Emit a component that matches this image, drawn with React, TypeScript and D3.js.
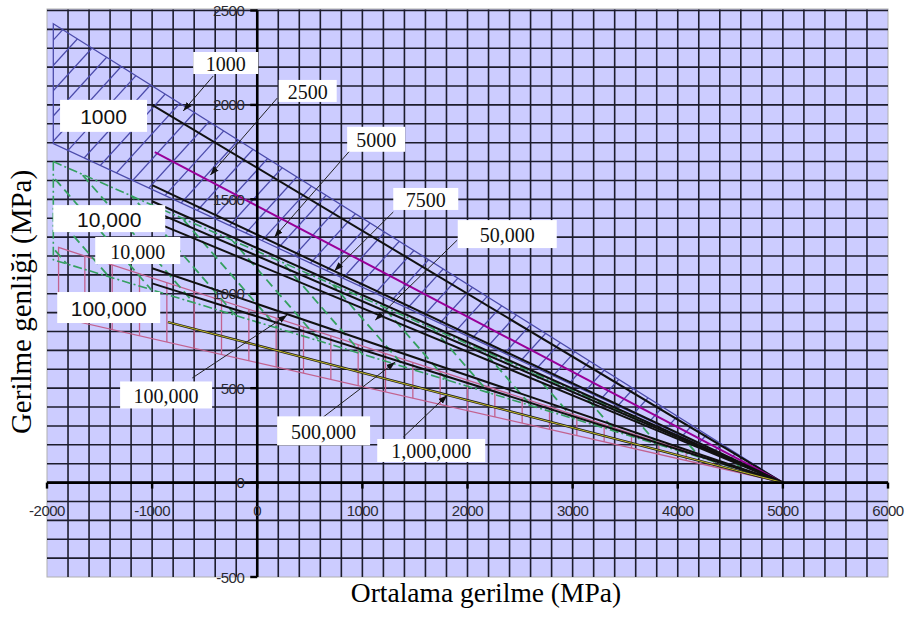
import React from "react";
import * as d3 from "d3";

// ---------- data ----------
const xTicks = [-2000, -1000, 0, 1000, 2000, 3000, 4000, 5000, 6000];
const yTicks = [-500, 0, 500, 1000, 1500, 2000, 2500];
const convergeX = 5000; // all constant-life lines meet at (5000, 0)

// constant-life lines (cycles), start point -> (5000, 0)
const lifeCycles = ["1000", "2500", "5000", "7500", "10,000", "50,000", "100,000", "500,000", "1,000,000"];
const lifeStartX = [-1000, -975, -1000, -1000, -1000, -1000, -1000, -1000, -850];
const lifeStartY = [2000, 1750, 1575, 1490, 1440, 1385, 1135, 1055, 850];

// scatter bands
const bandCycles = ["1000", "10,000", "100,000"];
const bandStartX = [-1940, -1940, -1890];
const bandUpper = [2430, 1700, 1245];
const bandLower = [1795, 1180, 875];

// callout labels: text, centre (data units), arrow from -> to (data units)
const callouts = [
  { text: "1000", font: "T", cx: -300, cy: 2222, w: 65, h: 22, a: [-419, 2153, -704, 1968] },
  { text: "2500", font: "T", cx: 480, cy: 2074, w: 58, h: 22, a: [190, 2036, -447, 1628] },
  { text: "5000", font: "T", cx: 1131, cy: 1818, w: 58, h: 25, a: [885, 1760, 162, 1299] },
  { text: "7500", font: "T", cx: 1603, cy: 1502, w: 65, h: 22, a: [1294, 1433, 733, 1121] },
  { text: "50,000", font: "T", cx: 2378, cy: 1316, w: 99, h: 28, a: [1902, 1284, 1122, 860] },
  { text: "10,000", font: "A", cx: -1408, cy: 1398, w: 112, h: 27, a: null },
  { text: "10,000", font: "T", cx: -1137, cy: 1229, w: 85, h: 27, a: null },
  { text: "100,000", font: "A", cx: -1413, cy: 927, w: 103, h: 31, a: null },
  { text: "100,000", font: "T", cx: -867, cy: 464, w: 92, h: 27, a: [-618, 554, 285, 887] },
  { text: "500,000", font: "T", cx: 631, cy: 274, w: 93, h: 29, a: [628, 347, 1313, 638] },
  { text: "1,000,000", font: "T", cx: 1655, cy: 170, w: 108, h: 23, a: [1389, 241, 1807, 463] },
  { text: "1000", font: "A", cx: -1462, cy: 1942, w: 87, h: 32, a: null },
];

const SERIF = "'Liberation Serif','Times New Roman',serif";
const SANS = "'Liberation Sans',Arial,sans-serif";

export default function App() {
  const x = d3.scaleLinear().domain([-2000, 6000]).range([47, 888]);
  const y = d3.scaleLinear().domain([-500, 2500]).range([577, 10.5]);
  const line = d3.line<[number, number]>().x((d) => x(d[0])).y((d) => y(d[1]));

  const bandPoly = (i: number): [number, number][] => [
    [bandStartX[i], bandUpper[i]],
    [convergeX, 0],
    [bandStartX[i], bandLower[i]],
  ];

  // hatch generators (pixel space)
  const slanted = (slope: number, spacing: number) => {
    const segs: string[] = [];
    for (let c = -1200; c < 2400; c += spacing) {
      const y0 = y(0);
      segs.push(`M0,${y0 + slope * (0 - c)}L910,${y0 + slope * (910 - c)}`);
    }
    return segs;
  };
  const blueHatch = slanted(-1.1, 23);
  const greenHatch = slanted(1.15, 31);
  const pinkHatch = d3.range(bandStartX[2] + 250, convergeX, 260);

  const xGrid = d3.range(-1800, 6000, 200);
  const yGrid = d3.range(-400, 2501, 100);

  const bandColors = ["#4b4bab", "#35a060", "#c2628f"];

  return (
    <svg width={910} height={617} style={{ position: "absolute", left: 0, top: 0, background: "#fff" }}>
      <defs>
        {bandCycles.map((_, i) => (
          <clipPath id={`band${i}`} key={i}>
            <path d={line(bandPoly(i)) + "Z"} />
          </clipPath>
        ))}
        <marker id="arr" viewBox="0 0 10 10" refX="10" refY="5" markerWidth="9" markerHeight="9" orient="auto" markerUnits="userSpaceOnUse">
          <path d="M0,1.5L10,5L0,8.5Z" fill="#111" />
        </marker>
      </defs>

      {/* plot background */}
      <rect x={x(-2000)} y={y(2500) - 1.5} width={x(6000) - x(-2000)} height={y(-500) - y(2500) + 1.5} fill="#ccccff" stroke="#b0b0b0" strokeWidth={1} />

      {/* grid */}
      {xGrid.map((v) => (
        <line key={"gx" + v} x1={x(v)} x2={x(v)} y1={y(2500) - 1} y2={y(-500)} stroke="#1c1c2c" strokeWidth={1.6} />
      ))}
      {yGrid.map((v) => (
        <line key={"gy" + v} x1={x(-2000)} x2={x(6000)} y1={y(v)} y2={y(v)} stroke="#1c1c2c" strokeWidth={1.6} />
      ))}

      {/* band 1000 (blue, slanted hatch) */}
      <g clipPath="url(#band0)">
        {blueHatch.map((d, i) => (
          <path key={i} d={d} stroke={bandColors[0]} strokeWidth={1.3} fill="none" />
        ))}
      </g>
      <path d={line(bandPoly(0)) + "Z"} fill="none" stroke={bandColors[0]} strokeWidth={1.3} />

      {/* band 100,000 (pink, vertical hatch) */}
      <g>
        {pinkHatch.map((v) => {
          const up = (bandUpper[2] * (convergeX - v)) / (convergeX - bandStartX[2]);
          const lo = (bandLower[2] * (convergeX - v)) / (convergeX - bandStartX[2]);
          return <line key={v} x1={x(v)} x2={x(v)} y1={y(up)} y2={y(lo)} stroke={bandColors[2]} strokeWidth={1.3} />;
        })}
      </g>
      <path d={line(bandPoly(2)) + "Z"} fill="none" stroke={bandColors[2]} strokeWidth={1.3} />

      {/* band 10,000 (green, dashed hatch) */}
      <g clipPath="url(#band1)">
        {greenHatch.map((d, i) => (
          <path key={i} d={d} stroke={bandColors[1]} strokeWidth={1.8} strokeDasharray="9 5" fill="none" />
        ))}
      </g>
      <path d={line(bandPoly(1)) + "Z"} fill="none" stroke={bandColors[1]} strokeWidth={1.6} strokeDasharray="9 3 2 3" />

      {/* constant life lines */}
      {lifeCycles.map((n, i) => {
        const d = line([
          [lifeStartX[i], lifeStartY[i]],
          [convergeX, 0],
        ])!;
        if (n === "2500") return <path key={n} d={d} stroke="#990099" strokeWidth={2} fill="none" />;
        if (n === "1,000,000")
          return (
            <g key={n}>
              <path d={d} stroke="#1a1a1a" strokeWidth={2.4} fill="none" />
              <path d={d} stroke="#d6cc2a" strokeWidth={0.9} fill="none" />
            </g>
          );
        return <path key={n} d={d} stroke="#111" strokeWidth={2} fill="none" />;
      })}

      {/* axes */}
      <line x1={x(-2000)} x2={x(6000)} y1={y(0)} y2={y(0)} stroke="#000" strokeWidth={2.6} />
      <line x1={x(0)} x2={x(0)} y1={y(2500)} y2={y(-500)} stroke="#000" strokeWidth={2.6} />
      {xTicks.map((v) => (
        <line key={"tx" + v} x1={x(v)} x2={x(v)} y1={y(0)} y2={y(0) + 6} stroke="#000" strokeWidth={2.4} />
      ))}
      {yTicks.map((v) => (
        <line key={"ty" + v} x1={x(0) - 7} x2={x(0)} y1={y(v)} y2={y(v)} stroke="#000" strokeWidth={2.4} />
      ))}
      {xTicks.map((v) => (
        <text key={"lx" + v} x={x(v)} y={y(0) + 28} textAnchor="middle" dominantBaseline="central" fontFamily={SANS} fontSize={15} fill="#2a2a33" letterSpacing={-0.5}>
          {v}
        </text>
      ))}
      {yTicks.map((v) => (
        <text key={"ly" + v} x={x(0) - 13} y={y(v)} textAnchor="end" dominantBaseline="central" fontFamily={SANS} fontSize={15} fill="#2a2a33" letterSpacing={-0.5}>
          {v}
        </text>
      ))}

      {/* callouts */}
      {callouts.map((c, i) =>
        c.a ? (
          <line key={"ar" + i} x1={x(c.a[0])} y1={y(c.a[1])} x2={x(c.a[2])} y2={y(c.a[3])} stroke="#222" strokeWidth={1} markerEnd="url(#arr)" />
        ) : null
      )}
      {callouts.map((c, i) => (
        <g key={"cb" + i}>
          <rect x={x(c.cx) - c.w / 2} y={y(c.cy) - c.h / 2} width={c.w} height={c.h} fill="#fff" />
          <text
            x={x(c.cx)}
            y={y(c.cy) + 1}
            textAnchor="middle"
            dominantBaseline="central"
            fontFamily={c.font === "A" ? SANS : SERIF}
            fontSize={c.font === "A" ? 21 : 20}
            fill="#111"
          >
            {c.text}
          </text>
        </g>
      ))}

      {/* axis titles */}
      <text x={486} y={602} textAnchor="middle" fontFamily={SERIF} fontSize={27.5} fill="#000">
        Ortalama gerilme (MPa)
      </text>
      <text transform="translate(31,302) rotate(-90)" textAnchor="middle" fontFamily={SERIF} fontSize={29} fill="#000">
        Gerilme genliği (MPa)
      </text>
    </svg>
  );
}
